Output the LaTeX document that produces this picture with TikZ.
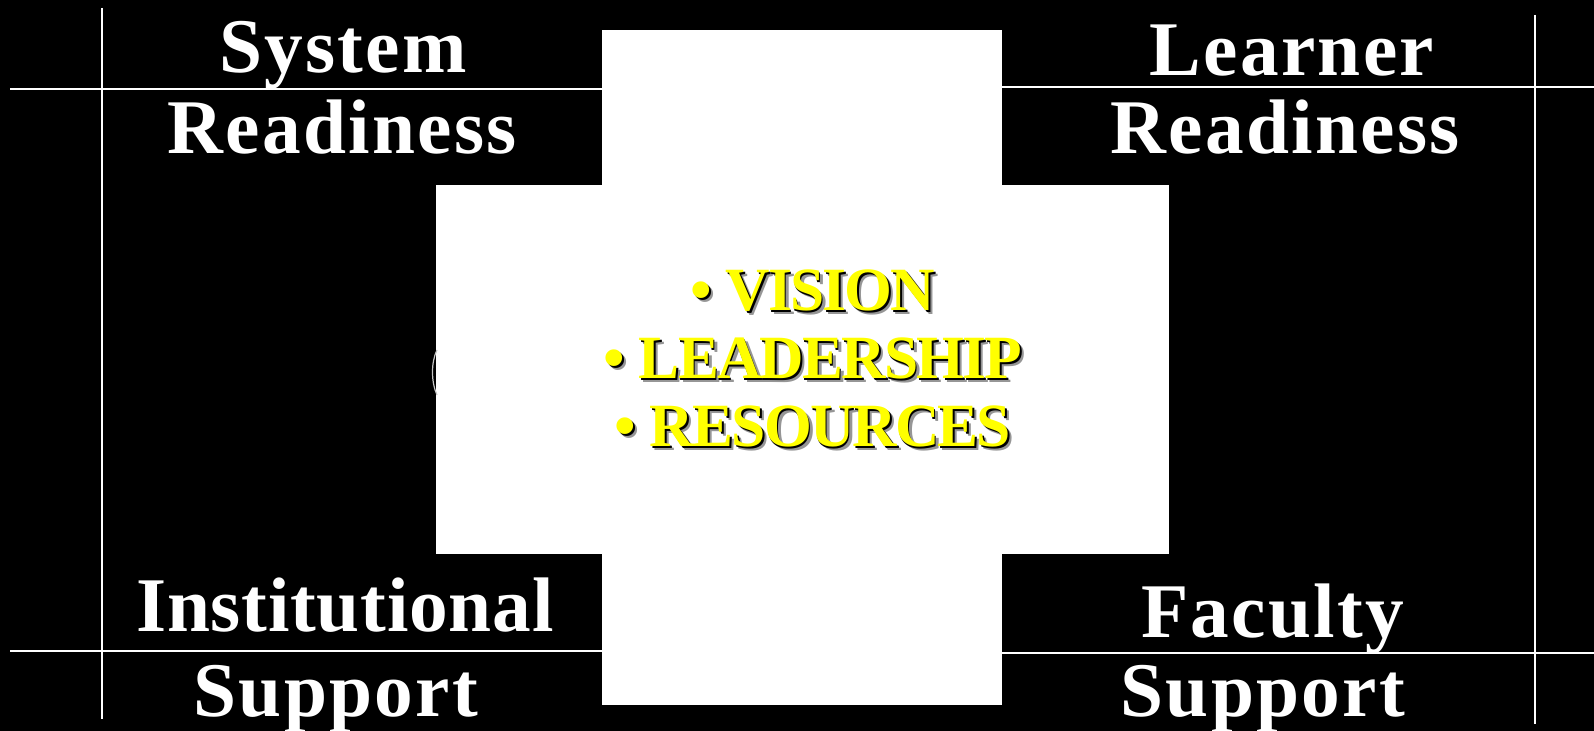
\documentclass[tikz,border=0pt]{standalone}
\usepackage{fontspec}
\setmainfont{Liberation Serif}
\newfontfamily\quadfont[LetterSpace=3]{Liberation Serif}
\newfontfamily\tightfont[LetterSpace=1]{Liberation Serif}
\newfontfamily\listfont[LetterSpace=-3]{Liberation Serif}
\usetikzlibrary{positioning}
\definecolor{shade}{RGB}{150,150,150}
\definecolor{lemon}{RGB}{255,255,0}

\begin{document}
\begin{tikzpicture}[x=0.1mm, y=-0.1mm,
        quad/.style={text=white, inner sep=0pt, anchor=base,
            font=\quadfont\bfseries\fontsize{22}{26}\selectfont},
        item/.style={inner sep=0pt, anchor=base,
            font=\listfont\bfseries\fontsize{17.5}{21}\selectfont},
        rule/.style={draw=white, line width=0.2mm}]
        \fill[black] (0,0) rectangle (1594,731);
        \useasboundingbox (0,0) rectangle (1594,731);

        \coordinate (lt) at (102,8);
        \coordinate (lb) at (102,719);
        \coordinate (rt) at (1535,15);
        \coordinate (rb) at (1535,724);
        \coordinate (ul1) at (10,89.5);
        \coordinate (ul2) at (602,89.5);
        \coordinate (dl1) at (10,651.5);
        \coordinate (dl2) at (602,651.5);
        \coordinate (ur1) at (1002,87.5);
        \coordinate (ur2) at (1594,87.5);
        \coordinate (dr1) at (1002,653.5);
        \coordinate (dr2) at (1594,653.5);
        \draw[rule] (lt) -- (lb);
        \draw[rule] (rt) -- (rb);
        \draw[rule] (ul1) -- (ul2);
        \draw[rule] (dl1) -- (dl2);
        \draw[rule] (ur1) -- (ur2);
        \draw[rule] (dr1) -- (dr2);

        \fill[white] (602,30) rectangle (1002,705);
        \fill[white] (436,185) rectangle (1169,554);
        \draw[draw=gray!45, line width=0.12mm] (437,350) .. controls (431,362) and (431,382) .. (437,395);

        \node[quad] (sys1) at (343,73) {System};
        \node[quad] (sys2) at (342,154) {Readiness};
        \node[quad] (lrn1) at (1292,76) {Learner};
        \node[quad] (lrn2) at (1285,154) {Readiness};
        \node[quad, font=\tightfont\bfseries\fontsize{22}{26}\selectfont] (ins1) at (345,632) {Institutional};
        \node[quad] (ins2) at (336,717) {Support};
        \node[quad] (fac1) at (1273,638) {Faculty};
        \node[quad] (fac2) at (1263,717) {Support};

        \foreach \d/\col in {4/shade, 1.5/black} {
            \node[item, text=\col] (vis-\col) at (813+\d,311+\d) {• VISION};
            \node[item, text=\col] (lead-\col) at (813+\d,379+\d) {• LEADERSHIP};
            \node[item, text=\col] (res-\col) at (813+\d,447+\d) {• RESOURCES};
        }
        \node[item, text=lemon] (vis) at (813,311) {• VISION};
        \node[item, text=lemon] (lead) at (813,379) {• LEADERSHIP};
        \node[item, text=lemon] (res) at (813,447) {• RESOURCES};
    \end{tikzpicture}
\end{document}
